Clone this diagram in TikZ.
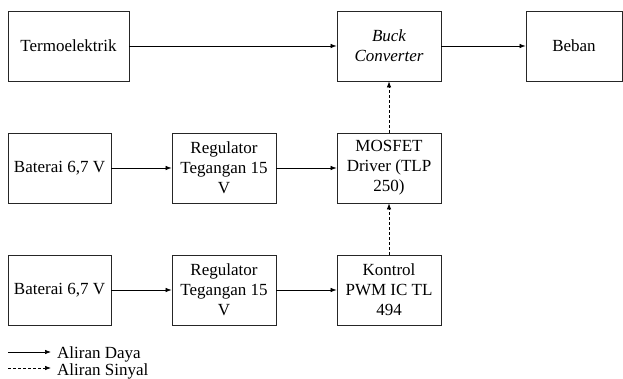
\documentclass[tikz,border=0pt]{standalone}
\usepackage{fontspec}
\setmainfont{Liberation Serif}
\usetikzlibrary{arrows.meta}
\begin{document}
\begin{tikzpicture}[x=1pt,y=-1pt,
  blok/.style={draw=black!85, line width=0.8pt, minimum height=70pt, align=center, inner sep=1pt,
    font=\fontsize{17}{20}\selectfont},
  pw/.style={line width=0.7pt, -{Latex[length=6pt,width=4.5pt]}},
  sg/.style={line width=0.7pt, dashed, dash pattern=on 3pt off 2pt, -{Latex[length=6pt,width=4.5pt]}},
  lbl/.style={anchor=base west, inner sep=0pt, font=\fontsize{17}{17}\selectfont}]
\useasboundingbox (0,0) rectangle (623,379);
\node[blok, minimum width=121pt] (termo) at (68.5,46) {Termoelektrik};
\node[blok, minimum width=104pt] (buck) at (389,46) {\itshape Buck\\\itshape Converter};
\node[blok, minimum width=96pt] (beban) at (574,46) {Beban};
\node[blok, minimum width=103pt] (bat1) at (59.5,168) {Baterai 6,7 V};
\node[blok, minimum width=104pt] (reg1) at (224,168) {Regulator\\Tegangan 15\\V};
\node[blok, minimum width=104pt] (mos) at (389,168) {MOSFET\\Driver (TLP\\250)};
\node[blok, minimum width=103pt] (bat2) at (59.5,290) {Baterai 6,7 V};
\node[blok, minimum width=104pt] (reg2) at (224,290) {Regulator\\Tegangan 15\\V};
\node[blok, minimum width=104pt] (pwm) at (389,290) {Kontrol\\PWM IC TL\\494};
\draw[pw] (termo) -- (buck);
\draw[pw] (buck) -- (beban);
\draw[pw] (bat1) -- (reg1);
\draw[pw] (reg1) -- (mos);
\draw[pw] (bat2) -- (reg2);
\draw[pw] (reg2) -- (pwm);
\draw[sg] (mos) -- (buck);
\draw[sg] (pwm) -- (mos);
\coordinate (l1a) at (8,352);
\coordinate (l1b) at (51,352);
\coordinate (l2a) at (8,368);
\coordinate (l2b) at (51,368);
\draw[pw] (l1a) -- (l1b);
\draw[sg] (l2a) -- (l2b);
\node[lbl] (t1) at (57,358) {Aliran Daya};
\node[lbl] (t2) at (57,375) {Aliran Sinyal};
\end{tikzpicture}
\end{document}
